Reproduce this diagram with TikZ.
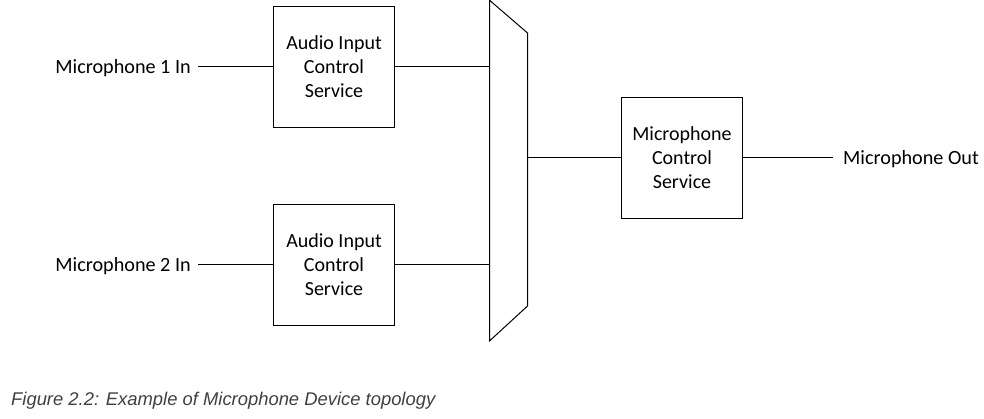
\documentclass[tikz,border=0pt]{standalone}
\usepackage{fontspec}
\setmainfont{Carlito}
\newfontfamily\capfont{Liberation Sans}
\definecolor{capgray}{HTML}{404040}
\begin{document}
\begin{tikzpicture}[x=1pt,y=1pt,
  svcbox/.style={draw=black,line width=1pt,minimum width=121pt,minimum height=121pt,inner sep=0pt,align=center,font=\fontsize{20}{24}\selectfont},
  lbl/.style={font=\fontsize{20.2}{24}\selectfont,inner sep=0pt},
  wire/.style={line width=1pt}]
\useasboundingbox (0,0) rectangle (984,419);
% service boxes
\node[svcbox] (aics1) at (334,352) {Audio Input\\Control\\Service};
\node[svcbox] (aics2) at (334,154) {Audio Input\\Control\\Service};
\node[svcbox] (mics) at (682,261) {Microphone\\Control\\Service};
% mux trapezoid
\coordinate (m1) at (489.5,418.8);
\coordinate (m2) at (527.5,386);
\coordinate (m3) at (527.5,113);
\coordinate (m4) at (489.5,78);
\draw[wire] (m1) -- (m2) -- (m3) -- (m4) -- cycle;
\coordinate (muxin1) at (489.5,352);
\coordinate (muxin2) at (489.5,154);
\coordinate (muxout) at (527.5,261);
% labels
\node[lbl,anchor=east] (in1) at (191,351) {Microphone 1 In};
\node[lbl,anchor=east] (in2) at (191,153) {Microphone 2 In};
\node[lbl,anchor=west] (out) at (843,260) {Microphone Out};
\coordinate (in1e) at (198,352);
\coordinate (in2e) at (198,154);
\coordinate (oute) at (833,261);
% wires
\draw[wire] (in1e) -- (aics1.west);
\draw[wire] (in2e) -- (aics2.west);
\draw[wire] (aics1.east) -- (muxin1);
\draw[wire] (aics2.east) -- (muxin2);
\draw[wire] (muxout) -- (mics.west);
\draw[wire] (mics.east) -- (oute);
% caption
\node[anchor=west,inner sep=0pt,text=capgray,font=\capfont\itshape\fontsize{18.4}{22}\selectfont] (cap) at (11,18) {Figure 2.2: Example of Microphone Device topology};
\end{tikzpicture}
\end{document}
